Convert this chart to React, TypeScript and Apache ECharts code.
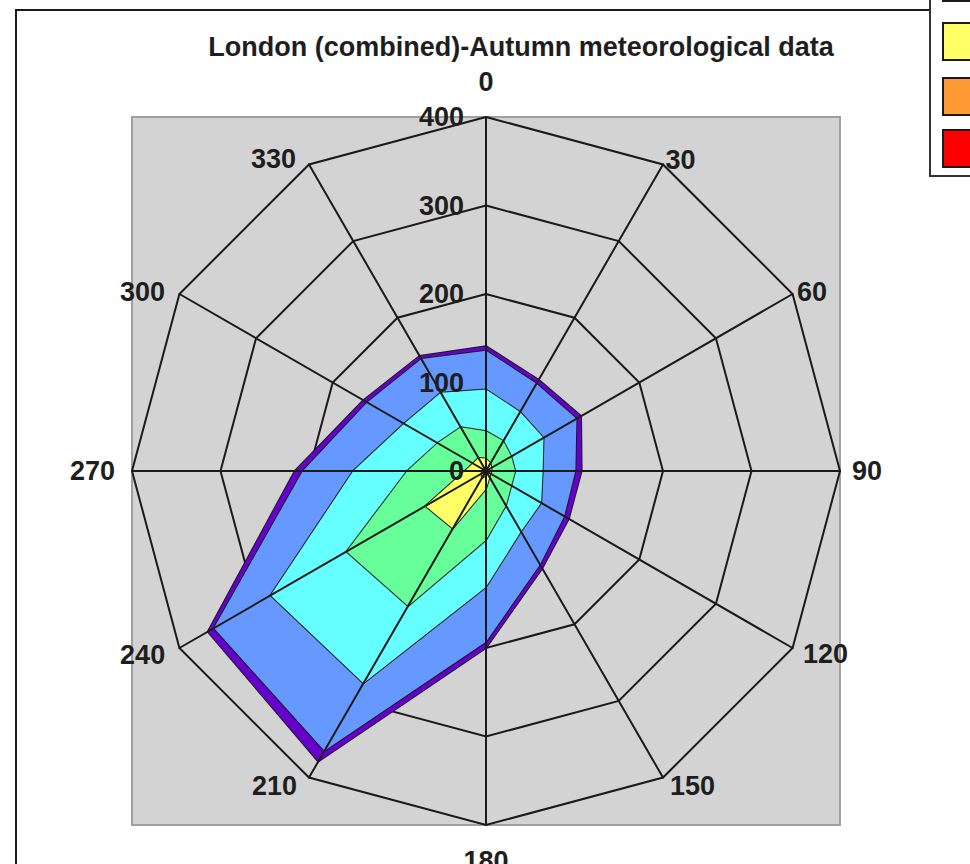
import React, { useEffect, useRef } from 'react';
import * as echarts from 'echarts';

// Compass directions (clockwise from north)
const directions = ['0', '30', '60', '90', '120', '150', '180', '210', '240', '270', '300', '330'];

// Cumulative frequency rings (outermost first), values clockwise from 0°
const seriesNames = ['Band 7', 'Band 6', 'Band 5', 'Band 4', 'Band 3', 'Band 2', 'Band 1'];
const purpleValues = [141, 119, 124, 108, 108, 127, 200, 379, 363, 216, 160, 150];
const blueValues = [136, 114, 118, 101, 102, 122, 193, 365, 355, 207, 155, 146];
const cyanValues = [92, 77, 75, 64, 72, 79, 131, 277, 281, 150, 107, 102];
const greenValues = [45, 39, 33, 33, 33, 45, 78, 176, 182, 89, 63, 57];
const yellowValues = [14, 10, 7, 6, 6, 8, 20, 75, 79, 24, 17, 17];
const orangeValues = [3, 2, 2, 2, 2, 3, 5, 9, 6, 4, 3, 3];
const redValues = [1, 1, 1, 1, 1, 1, 2, 3, 2, 1, 1, 1];
const seriesColors = ['#6600CC', '#6699FF', '#66FFFF', '#66FF99', '#FFFF66', '#FF9933', '#FF0000'];

const radialMax = 400;
const titleText = 'London (combined)-Autumn meteorological data';

// ECharts radar runs counter-clockwise; reorder so the compass reads clockwise
const ccw = <T,>(arr: T[]): T[] => [arr[0], ...arr.slice(1).reverse()];

export default function App() {
  const ref = useRef<HTMLDivElement>(null);
  useEffect(() => {
    if (!ref.current) return;
    const chart = echarts.init(ref.current, undefined, { renderer: 'svg' });
    const cx = 486;
    const cy = 471;
    const R = 354;
    const font = 'Liberation Sans, Arial, Helvetica, sans-serif';
    const textColor = '#1e1e1e';
    const lineColor = '#1a1a1a';
    const allValues = [purpleValues, blueValues, cyanValues, greenValues, yellowValues, orangeValues, redValues];

    const namesOrdered = ccw(directions);
    const nameLayout = (d: string) => {
      const a = Number(d);
      if (a === 0 || a === 180) return { nameGap: 22 };
      if (a === 90) return { nameGap: 12 };
      if (a === 270) return { nameGap: 12, nameTextStyle: { padding: [0, 5, 0, 0] } };
      if (a === 30 || a === 60) return { nameGap: 5 };
      if (a === 120) return { nameGap: 12 };
      if (a === 150) return { nameGap: 10, nameTextStyle: { padding: [0, 0, 0, 2] } };
      if (a === 240) return { nameGap: 13, nameTextStyle: { padding: [0, 3, 0, 0] } };
      if (a === 210) return { nameGap: 10, nameTextStyle: { padding: [0, 7, 0, 0] } };
      if (a === 300) return { nameGap: 5, nameTextStyle: { padding: [0, 10, 0, 0] } };
      return { nameGap: 6, nameTextStyle: { padding: [0, 10, 0, 0] } };
    };
    const indicatorsBase = namesOrdered.map((d) => ({ name: d, max: radialMax, min: 0, ...nameLayout(d) }));
    const indicatorsTop = namesOrdered.map((d, i) => ({
      name: d,
      max: radialMax,
      min: 0,
      axisLabel: i === 0
        ? { show: true, margin: 22, color: textColor, fontSize: 27, fontWeight: 'bold', fontFamily: font }
        : { show: false },
    }));

    // legend boxes: only lower part visible (green, yellow, orange, red)
    const legendStart = 3;
    const legendTops = [-36, 23, 78, 130];
    const legendBoxes = seriesColors.slice(legendStart).map((c, i) => ({
      type: 'rect',
      z: 21,
      shape: { x: 943, y: legendTops[i], width: 60, height: 37 },
      style: { fill: c, stroke: lineColor, lineWidth: 2 },
    }));

    chart.setOption({
      animation: false,
      backgroundColor: '#ffffff',
      graphic: [
        {
          type: 'rect',
          z: -20,
          shape: { x: 16, y: 10, width: 1000, height: 900 },
          style: { fill: '#ffffff', stroke: lineColor, lineWidth: 2 },
        },
        {
          type: 'rect',
          z: -10,
          shape: { x: cx - R, y: cy - R, width: 2 * R, height: 2 * R },
          style: { fill: '#D3D3D3', stroke: '#A0A0A0', lineWidth: 2 },
        },
        {
          type: 'text',
          z: 20,
          x: 521,
          y: 47,
          style: {
            text: titleText,
            fill: textColor,
            font: `bold 27px ${font}`,
            textAlign: 'center',
            textVerticalAlign: 'middle',
          },
        },
        {
          type: 'rect',
          z: 20,
          shape: { x: 930, y: -10, width: 60, height: 186 },
          style: { fill: '#ffffff', stroke: '#333333', lineWidth: 2 },
        },
        ...legendBoxes,
      ],
      radar: [
        {
          z: 0,
          center: [cx, cy],
          radius: R,
          shape: 'polygon',
          splitNumber: 4,
          indicator: indicatorsBase,
          axisName: { color: textColor, fontSize: 27, fontWeight: 'bold', fontFamily: font },
          axisLine: { show: false },
          axisTick: { show: false },
          axisLabel: { show: false },
          splitLine: { lineStyle: { color: lineColor, width: 2 } },
          splitArea: { show: false },
        },
        {
          z: 5,
          center: [cx, cy],
          radius: R,
          shape: 'polygon',
          splitNumber: 4,
          indicator: indicatorsTop,
          axisName: { show: false },
          axisLine: { show: true, lineStyle: { color: lineColor, width: 2 } },
          axisTick: { show: false },
          axisLabel: { show: false },
          splitLine: { show: false },
          splitArea: { show: false },
        },
      ],
      series: [
        {
          type: 'radar',
          radarIndex: 0,
          symbol: 'none',
          data: allValues.map((vals, i) => ({
            name: seriesNames[i],
            value: ccw(vals),
            lineStyle: { color: lineColor, width: 2 },
            areaStyle: { color: seriesColors[i], opacity: 1 },
            itemStyle: { color: seriesColors[i] },
          })),
        },
      ],
    });
    return () => chart.dispose();
  }, []);
  return <div ref={ref} style={{ position: 'fixed', left: 0, top: 0, width: 970, height: 864 }} />;
}
